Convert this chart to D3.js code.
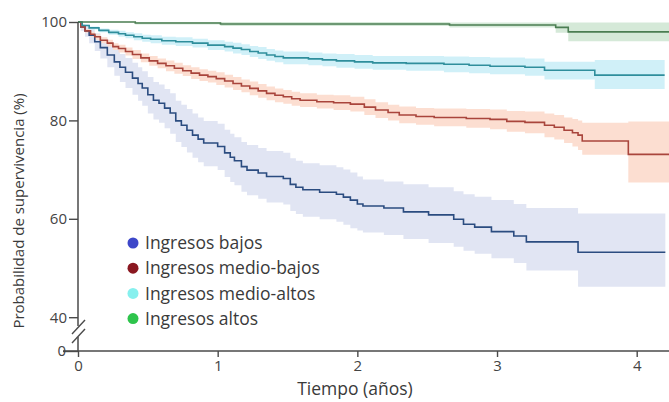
<!DOCTYPE html>
<html>
<head>
<meta charset="utf-8">
<script src="https://cdn.jsdelivr.net/npm/d3@7"></script>
<style>
  html, body { margin: 0; padding: 0; background: #fff; }
  svg { display: block; font-family: "Open Sans", "Noto Sans", sans-serif; }
  .tick text { font-size: 15px; font-family: "Open Sans", sans-serif; fill: #444; }
</style>
</head>
<body>
<svg id="chart" width="669" height="402"></svg>
<script>
// ---- Data: Kaplan-Meier steps [time (years), survival %, lower CI, upper CI] ----
const bajos = [
  [0, 100, 100, 100], [0.02, 99.0, 98.2, 99.6], [0.05, 98.2, 97.0, 99.2], [0.08, 97.3, 95.7, 98.6],
  [0.12, 96.0, 94.1, 97.7], [0.16, 94.8, 92.6, 96.8], [0.21, 93.3, 90.8, 95.5], [0.26, 91.9, 89.1, 94.4],
  [0.30, 90.8, 87.8, 93.5], [0.34, 89.8, 86.6, 92.7], [0.39, 88.6, 85.2, 91.7], [0.43, 87.5, 84.0, 90.8],
  [0.46, 86.6, 83.0, 90.0], [0.50, 85.2, 81.4, 88.8], [0.54, 84.1, 80.2, 87.8], [0.58, 83.5, 79.5, 87.3],
  [0.62, 82.5, 78.4, 86.4], [0.66, 81.5, 77.3, 85.5], [0.70, 79.9, 75.6, 84.0], [0.74, 79.0, 74.6, 83.2],
  [0.78, 78.0, 73.5, 82.3], [0.82, 77.0, 72.4, 81.4], [0.86, 76.2, 71.5, 80.6], [0.90, 75.4, 70.7, 79.9],
  [1.00, 74.7, 69.9, 79.3], [1.05, 73.4, 68.5, 78.1], [1.09, 72.5, 67.5, 77.3], [1.12, 71.8, 66.8, 76.6],
  [1.17, 70.6, 65.5, 75.6], [1.21, 69.9, 64.8, 75.0], [1.29, 69.3, 64.1, 74.4], [1.35, 68.6, 63.3, 73.8],
  [1.47, 68.2, 62.9, 73.4], [1.52, 67.0, 61.6, 72.3], [1.56, 66.4, 61.0, 71.8], [1.61, 65.9, 60.4, 71.3],
  [1.73, 65.4, 59.9, 70.9], [1.85, 65.0, 59.4, 70.5], [1.90, 64.4, 58.8, 70.0], [1.95, 63.8, 58.1, 69.4],
  [2.00, 63.0, 57.6, 68.6], [2.04, 62.6, 57.2, 68.0], [2.19, 62.2, 56.7, 67.6], [2.33, 61.4, 55.9, 67.0],
  [2.51, 60.8, 55.1, 66.4], [2.69, 59.9, 54.3, 65.6], [2.76, 58.9, 53.5, 65.0], [2.84, 58.3, 52.9, 64.5],
  [2.96, 57.4, 52.0, 63.8], [3.12, 56.5, 51.0, 63.0], [3.21, 55.3, 49.5, 62.2], [3.58, 53.2, 46.2, 61.1],
  [4.205, 53.2, 46.2, 61.1]
];
const medioBajos = [
  [0, 100, 100, 100], [0.02, 99.0, 98.7, 99.3], [0.05, 98.2, 97.8, 98.6], [0.09, 97.5, 97.0, 98.0],
  [0.12, 97.0, 96.4, 97.5], [0.16, 96.3, 95.7, 96.9], [0.21, 95.7, 95.0, 96.4], [0.25, 95.0, 94.3, 95.7],
  [0.29, 94.6, 93.8, 95.4], [0.34, 94.0, 93.2, 94.8], [0.39, 93.4, 92.5, 94.3], [0.45, 92.7, 91.8, 93.6],
  [0.51, 92.1, 91.1, 93.1], [0.57, 91.6, 90.6, 92.6], [0.63, 91.1, 90.0, 92.2], [0.69, 90.6, 89.5, 91.7],
  [0.75, 90.1, 89.0, 91.2], [0.81, 89.6, 88.4, 90.8], [0.87, 89.2, 88.0, 90.4], [0.93, 88.9, 87.7, 90.1],
  [0.99, 88.5, 87.2, 89.8], [1.05, 88.0, 86.7, 89.3], [1.11, 87.5, 86.2, 88.8], [1.17, 87.0, 85.7, 88.3],
  [1.23, 86.5, 85.1, 87.9], [1.29, 86.0, 84.6, 87.4], [1.35, 85.5, 84.1, 86.9], [1.41, 85.1, 83.7, 86.5],
  [1.47, 84.8, 83.4, 86.2], [1.53, 84.4, 83.0, 85.8], [1.59, 84.1, 82.7, 85.5], [1.71, 83.8, 82.4, 85.2],
  [1.83, 83.6, 82.1, 85.1], [1.95, 83.3, 81.8, 84.8], [2.05, 82.7, 81.1, 84.3], [2.13, 82.1, 80.5, 83.7],
  [2.22, 81.6, 80.0, 83.2], [2.30, 81.1, 79.4, 82.8], [2.42, 80.8, 79.1, 82.5], [2.55, 80.6, 78.8, 82.4],
  [2.78, 80.4, 78.5, 82.3], [2.95, 80.2, 78.2, 82.2], [3.07, 79.8, 77.7, 81.9], [3.20, 79.6, 77.4, 81.8],
  [3.34, 79.0, 76.6, 81.4], [3.41, 78.6, 76.1, 81.1], [3.48, 78.0, 75.4, 80.6], [3.54, 77.5, 74.7, 80.3],
  [3.58, 77.0, 74.0, 80.0], [3.61, 75.8, 73.0, 79.5], [3.94, 73.1, 67.4, 79.8], [4.233, 73.1, 67.4, 79.8]
];
const medioAltos = [
  [0, 100, 100, 100], [0.03, 99.3, 99.1, 99.5], [0.08, 98.8, 98.5, 99.1], [0.15, 98.3, 97.9, 98.7],
  [0.22, 97.9, 97.4, 98.4], [0.29, 97.6, 97.0, 98.2], [0.34, 97.3, 96.7, 97.9], [0.40, 97.0, 96.3, 97.7],
  [0.46, 96.7, 96.0, 97.4], [0.52, 96.5, 95.7, 97.3], [0.60, 96.2, 95.4, 97.0], [0.70, 96.0, 95.1, 96.9],
  [0.82, 95.7, 94.8, 96.6], [0.93, 95.3, 94.3, 96.3], [1.05, 95.0, 94.0, 96.0], [1.11, 94.7, 93.6, 95.8],
  [1.17, 94.4, 93.3, 95.5], [1.23, 94.0, 92.9, 95.1], [1.29, 93.7, 92.5, 94.9], [1.35, 93.3, 92.1, 94.5],
  [1.41, 93.0, 91.8, 94.2], [1.47, 92.7, 91.4, 94.0], [1.65, 92.5, 91.2, 93.8], [1.75, 92.3, 91.0, 93.6],
  [1.85, 92.1, 90.7, 93.5], [1.98, 91.9, 90.5, 93.3], [2.11, 91.7, 90.3, 93.1], [2.35, 91.6, 90.1, 93.1],
  [2.62, 91.4, 89.8, 93.0], [2.80, 91.2, 89.6, 92.9], [2.95, 91.0, 89.4, 92.8], [3.20, 90.8, 89.1, 92.6],
  [3.34, 90.2, 88.3, 91.9], [3.70, 89.2, 86.4, 92.3], [4.20, 89.2, 86.4, 92.3]
];
const altos = [
  [0, 100, 100, 100], [0.41, 99.8, 99.5, 100], [1.02, 99.6, 99.2, 100], [2.66, 99.4, 98.9, 99.9],
  [3.42, 98.9, 97.8, 99.9], [3.51, 98.0, 96.1, 99.9], [4.233, 98.0, 96.1, 99.9]
];

const seriesNames = ["Ingresos bajos", "Ingresos medio-bajos", "Ingresos medio-altos", "Ingresos altos"];
const seriesData = [bajos, medioBajos, medioAltos, altos];
const lineColors = ["#2b4c80", "#a9453c", "#2f8e9c", "#4b7d52"];
const bandColors = ["#dfe4f2", "#fcdccf", "#cdeff8", "#d3e8d6"];
const legendColors = ["#3d47c9", "#8a1720", "#86f0ee", "#2ec44c"];
const xTicks = [0, 1, 2, 3, 4];
const yTicks = [0, 40, 60, 80, 100];

// ---- Layout ----
const svg = d3.select("#chart");
const x0 = 78, x4 = 636.7, plotRight = 669;
const yTop = 22, y40 = 317.2, yBottom = 351;

const x = d3.scaleLinear().domain([0, 4]).range([x0, x4]);
// broken y axis: 0 sits below a break, 40..100 linear
const y = d3.scaleLinear().domain([0, 40, 100]).range([yBottom, y40, yTop]);

svg.append("defs").append("clipPath").attr("id", "clip")
  .append("rect").attr("x", x0).attr("y", 0).attr("width", plotRight - x0).attr("height", yBottom);

const g = svg.append("g").attr("clip-path", "url(#clip)");

const area = d3.area().curve(d3.curveStepAfter)
  .x(d => x(d[0])).y0(d => y(d[2])).y1(d => y(d[3]));
const line = d3.line().curve(d3.curveStepAfter)
  .x(d => x(d[0])).y(d => y(d[1]));

seriesData.forEach((data, i) => {
  g.append("path").attr("d", area(data)).attr("fill", bandColors[i]).attr("fill-opacity", 0.95);
});
seriesData.forEach((data, i) => {
  g.append("path").attr("d", line(data)).attr("fill", "none")
    .attr("stroke", lineColors[i]).attr("stroke-width", 1.6);
});

// ---- Axes ----
const axisColor = "#4a4a4a";
const xAxis = svg.append("g").attr("transform", `translate(0,${yBottom})`)
  .call(d3.axisBottom(x).tickValues(xTicks).tickSize(6).tickPadding(3).tickFormat(d3.format("d")));
xAxis.select(".domain").remove();
svg.append("line").attr("x1", 63).attr("x2", plotRight).attr("y1", yBottom).attr("y2", yBottom)
  .attr("stroke", axisColor).attr("stroke-width", 1.5);

const yAxis = svg.append("g").attr("transform", `translate(${x0},0)`)
  .call(d3.axisLeft(y).tickValues(yTicks).tickSize(9).tickPadding(2).tickFormat(d3.format("d")));
yAxis.select(".domain").remove();
svg.append("line").attr("x1", x0).attr("x2", x0).attr("y1", yTop).attr("y2", 326)
  .attr("stroke", axisColor).attr("stroke-width", 1.5);
svg.append("line").attr("x1", x0).attr("x2", x0).attr("y1", 337).attr("y2", yBottom)
  .attr("stroke", axisColor).attr("stroke-width", 1.5);
[[72, 334, 85, 320], [72, 343, 85, 329]].forEach(s => {
  svg.append("line").attr("x1", s[0]).attr("y1", s[1]).attr("x2", s[2]).attr("y2", s[3])
    .attr("stroke", axisColor).attr("stroke-width", 1.4);
});

[xAxis, yAxis].forEach(ax => {
  ax.selectAll(".tick line").attr("stroke", axisColor).attr("stroke-width", 1.4);
  ax.selectAll(".tick text").style("font-size", "15px").style("fill", "#444");
});
yAxis.selectAll(".tick").filter(d => d === 0).select("line").attr("x2", -15);
yAxis.selectAll(".tick").filter(d => d === 0).select("text").attr("x", -12);

// axis titles
svg.append("text").attr("x", 355).attr("y", 395).attr("text-anchor", "middle")
  .style("font-size", "17.5px").attr("fill", "#3a3a3a").text("Tiempo (años)");
svg.append("text").attr("transform", "translate(24,211) rotate(-90)").attr("text-anchor", "middle")
  .style("font-size", "15px").attr("fill", "#3a3a3a").text("Probabilidad de supervivencia (%)");

// ---- Legend ----
const legend = svg.append("g");
seriesNames.forEach((name, i) => {
  const ly = 243 + i * 25.2;
  legend.append("circle").attr("cx", 133).attr("cy", ly).attr("r", 5.5).attr("fill", legendColors[i]);
  legend.append("text").attr("x", 145).attr("y", ly).attr("dy", "0.35em")
    .style("font-size", "17.5px").attr("fill", "#3a3a3a").text(name);
});
</script>
</body>
</html>
